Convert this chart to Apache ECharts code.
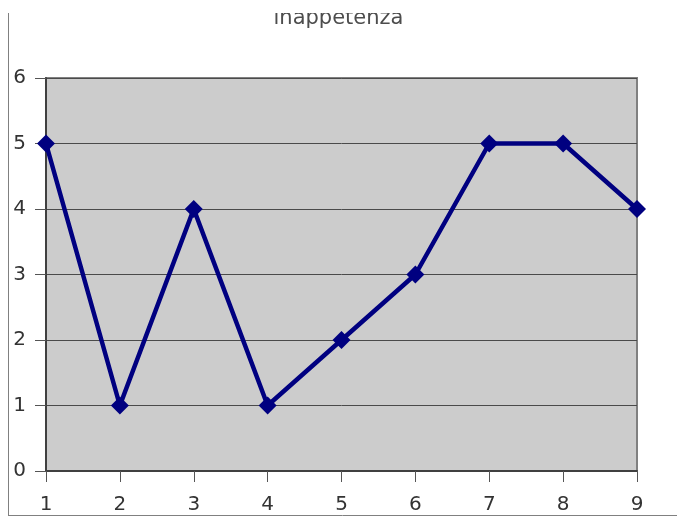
<!DOCTYPE html>
<html>
<head>
<meta charset="utf-8">
<script src="https://cdn.jsdelivr.net/npm/echarts@6/dist/echarts.min.js"></script>
<style>
  html, body { margin: 0; padding: 0; background: #fff; }
  #main { width: 677px; height: 516px; }
</style>
</head>
<body>
<div id="main"></div>
<script>
// data
var categories = ['1', '2', '3', '4', '5', '6', '7', '8', '9'];
var values = [5, 1, 4, 1, 2, 3, 5, 5, 4];
var chartTitle = 'inappetenza';

var chart = echarts.init(document.getElementById('main'));

var option = {
    animation: false,
    backgroundColor: '#fff',
    title: {
        text: chartTitle,
        left: 'center',
        top: 3,
        textStyle: { fontFamily: 'DejaVu Sans', fontSize: 21, fontWeight: 'normal', color: '#4d4d4d' }
    },
    grid: { left: 46, right: 40, top: 78, bottom: 45, show: true, backgroundColor: '#cccccc', borderColor: '#808080', borderWidth: 2 },
    xAxis: {
        type: 'category',
        data: categories,
        boundaryGap: false,
        axisLine: { lineStyle: { color: '#404040', width: 2 } },
        axisTick: { length: 11, lineStyle: { color: '#555' } },
        axisLabel: { margin: 24, fontFamily: 'DejaVu Sans', fontSize: 20, color: '#333' },
        splitLine: { show: false }
    },
    yAxis: {
        type: 'value',
        min: 0,
        max: 6,
        interval: 1,
        axisLine: { show: true, lineStyle: { color: '#404040', width: 2 } },
        axisTick: { show: true, length: 11, lineStyle: { color: '#555' } },
        axisLabel: { margin: 20, fontFamily: 'DejaVu Sans', fontSize: 20, color: '#333' },
        splitLine: { lineStyle: { color: '#4a4a4a', width: 1 } }
    },
    series: [{
        type: 'line',
        data: values,
        symbol: 'diamond',
        symbolSize: 18,
        itemStyle: { color: '#000080' },
        lineStyle: { color: '#000080', width: 4.5 }
    }],
    graphic: [
        // the top strip of the picture is cut off, hiding the upper part of the title
        { type: 'rect', z: 100, shape: { x: 0, y: 0, width: 677, height: 13 }, style: { fill: '#fff' } },
        { type: 'line', shape: { x1: 8.5, y1: 13, x2: 8.5, y2: 515.5 }, style: { stroke: '#808080', lineWidth: 1 } },
        { type: 'line', shape: { x1: 8, y1: 515.5, x2: 677, y2: 515.5 }, style: { stroke: '#808080', lineWidth: 1 } }
    ]
};

chart.setOption(option);
</script>
</body>
</html>
